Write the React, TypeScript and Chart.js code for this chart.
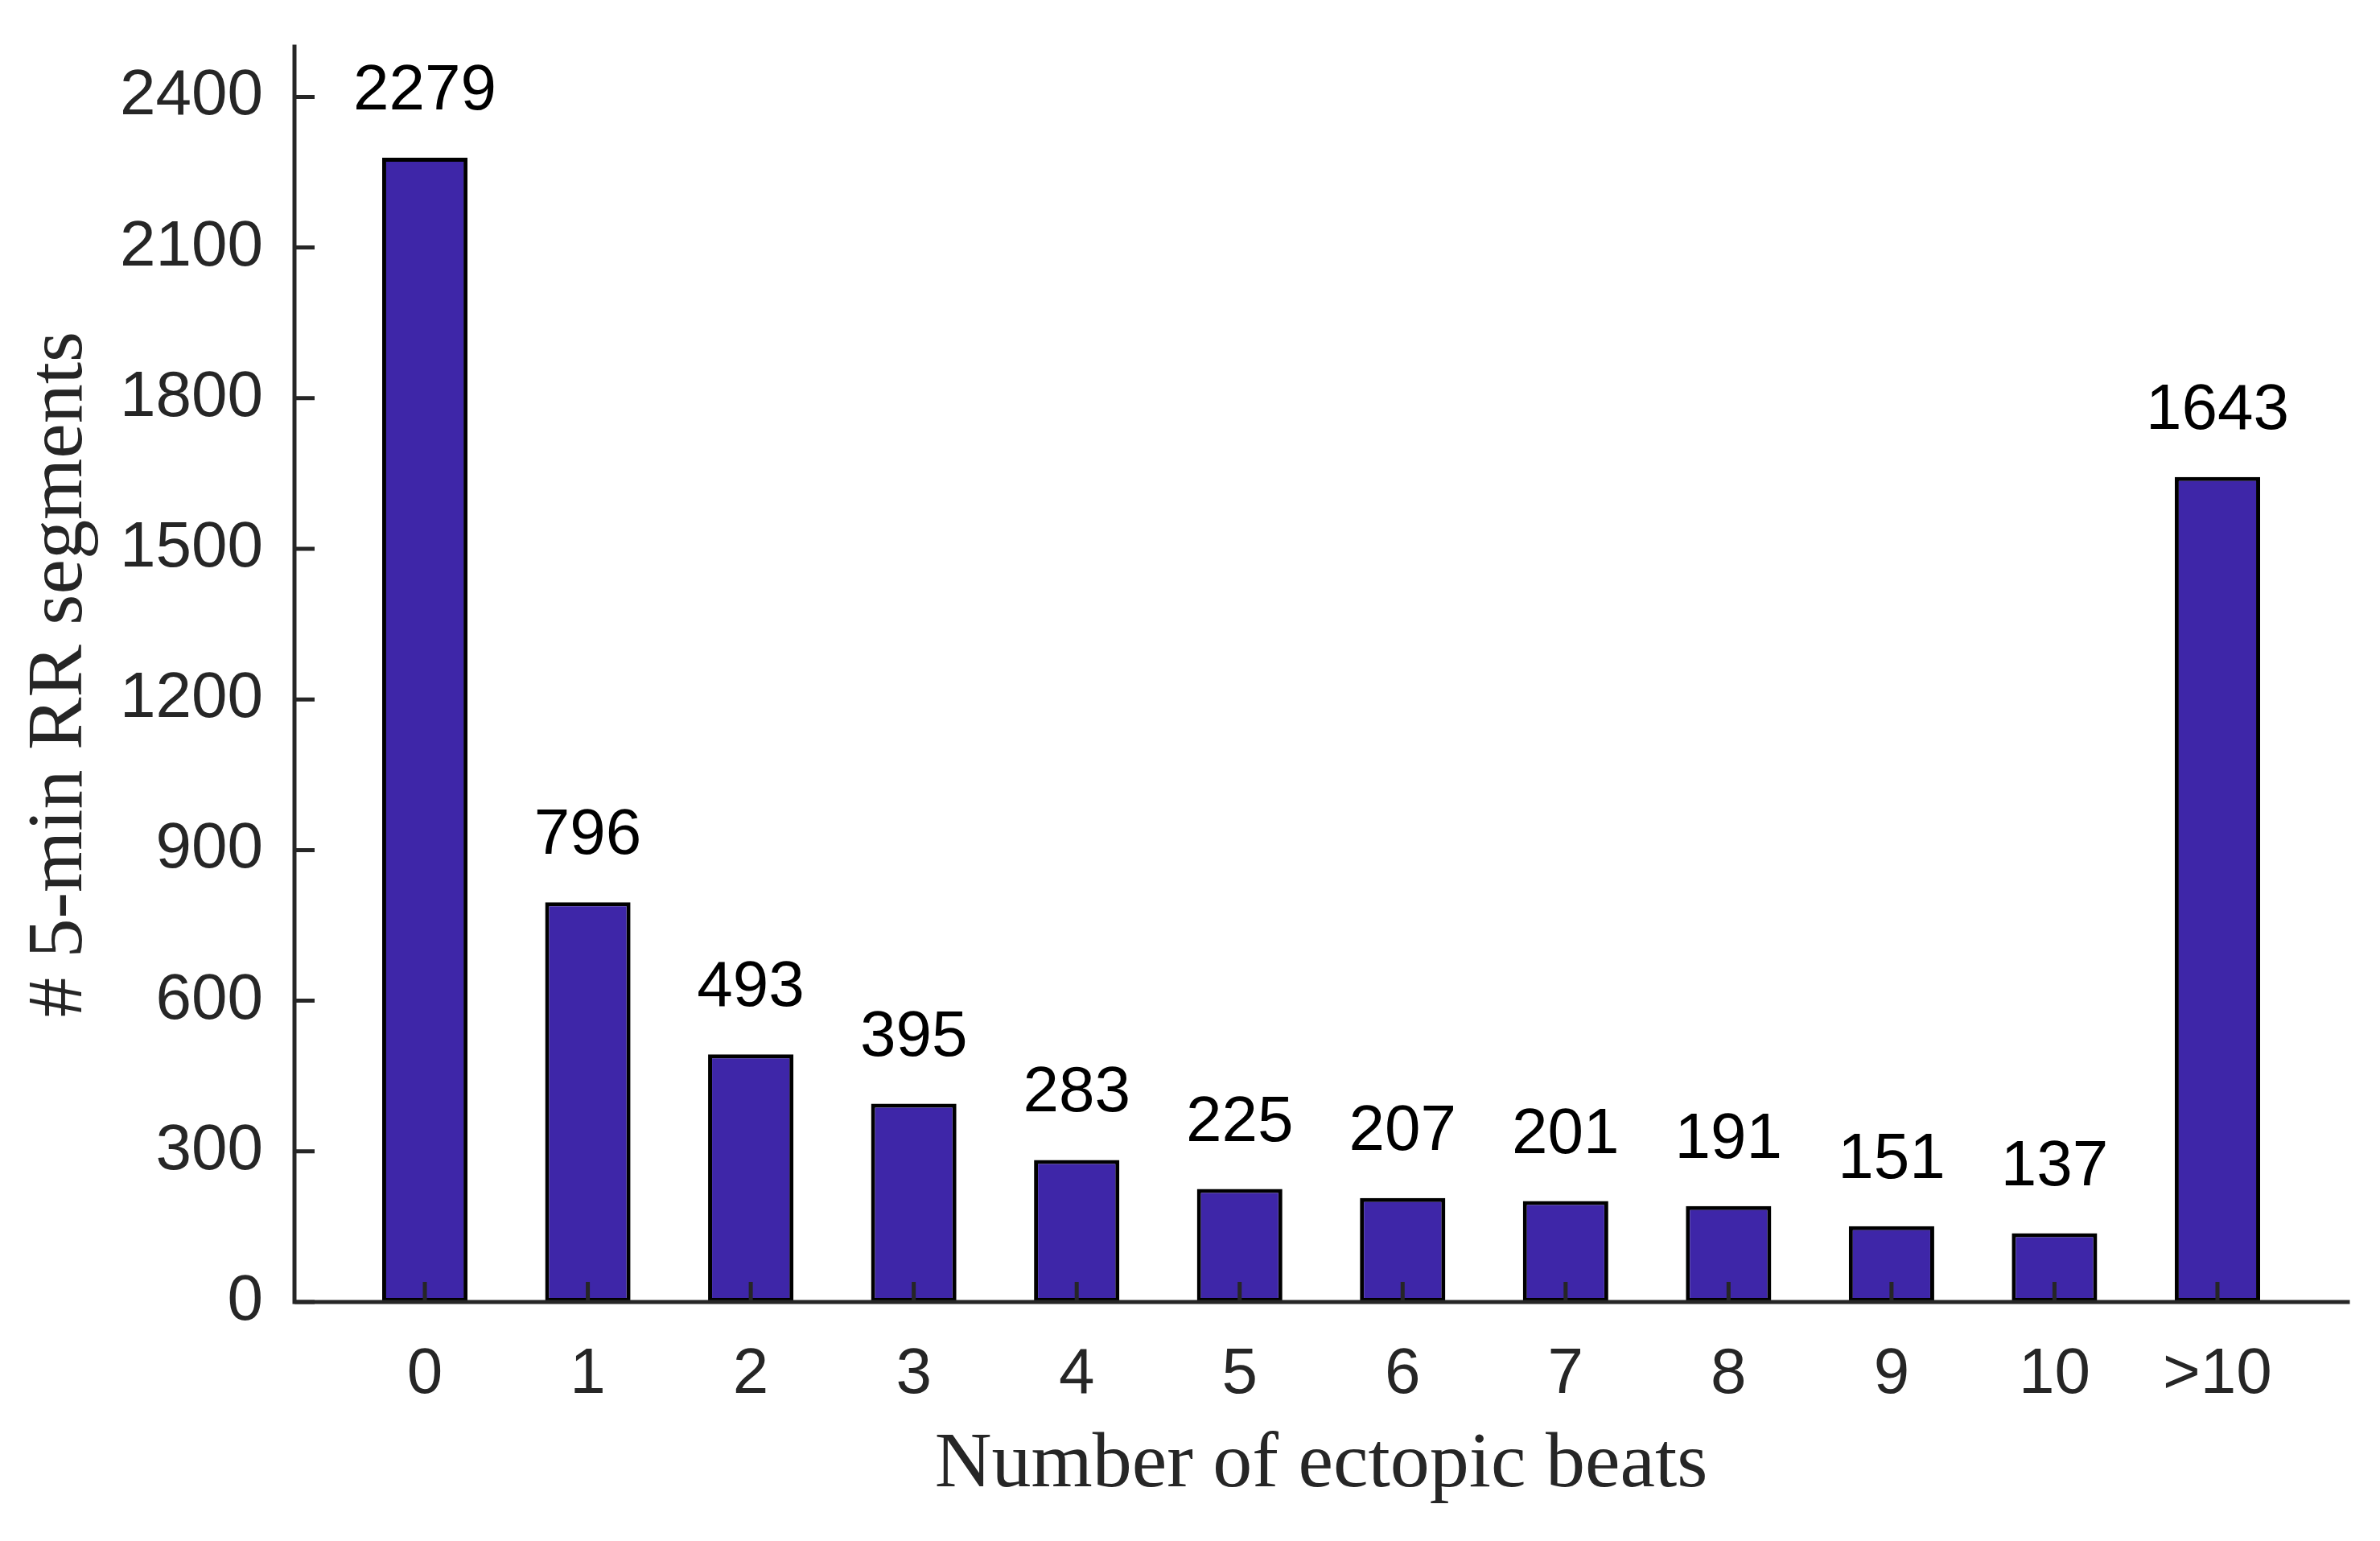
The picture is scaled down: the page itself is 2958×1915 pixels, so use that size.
import { useEffect, useRef } from "react";
import { Chart, registerables } from "chart.js";
import type { Plugin } from "chart.js";

Chart.register(...registerables);

// number of ectopic beats per 5-min segment
const beatLabels = ["0", "1", "2", "3", "4", "5", "6", "7", "8", "9", "10", ">10"];
const segmentCounts = [2279, 796, 493, 395, 283, 225, 207, 201, 191, 151, 137, 1643];
const yTicks = [0, 300, 600, 900, 1200, 1500, 1800, 2100, 2400];

const AXIS_COLOR = "#262626";
const BAR_COLOR = "#3E26A8";
const SANS = "'Liberation Sans', Arial, Helvetica, sans-serif";
const SERIF = "'Liberation Serif', 'Times New Roman', Times, serif";

// MATLAB style axes: inward ticks, drawn on top of the bars
const axesPlugin: Plugin<"bar"> = {
  id: "matlabAxes",
  afterDatasetsDraw(chart) {
    const { ctx, chartArea, scales } = chart;
    const { left, right, top, bottom } = chartArea;
    const x = scales.x;
    const y = scales.y;
    const tickLen = 25;

    ctx.save();
    ctx.strokeStyle = AXIS_COLOR;
    ctx.lineWidth = 5;
    ctx.beginPath();
    y.ticks.forEach((t) => {
      const py = y.getPixelForValue(t.value);
      ctx.moveTo(left, py);
      ctx.lineTo(left + tickLen, py);
    });
    x.ticks.forEach((t) => {
      const px = x.getPixelForValue(t.value);
      ctx.moveTo(px, bottom);
      ctx.lineTo(px, bottom - tickLen);
    });
    ctx.stroke();

    ctx.lineCap = "square";
    ctx.beginPath();
    ctx.moveTo(left, top);
    ctx.lineTo(left, bottom);
    ctx.lineTo(right, bottom);
    ctx.stroke();
    ctx.restore();
  },
};

const valueLabels: Plugin<"bar"> = {
  id: "valueLabels",
  afterDatasetsDraw(chart) {
    const { ctx } = chart;
    const meta = chart.getDatasetMeta(0);
    ctx.save();
    ctx.font = `80px ${SANS}`;
    ctx.fillStyle = "#000";
    ctx.textAlign = "center";
    ctx.textBaseline = "alphabetic";
    meta.data.forEach((bar, i) => {
      ctx.fillText(String(segmentCounts[i]), bar.x, bar.y - 60);
    });
    ctx.restore();
  },
};

const EctopicChart = () => {
  const canvasRef = useRef<HTMLCanvasElement | null>(null);
  const chartRef = useRef<Chart | null>(null);

  useEffect(() => {
    if (!canvasRef.current) return;
    if (chartRef.current) chartRef.current.destroy();

    chartRef.current = new Chart(canvasRef.current, {
      type: "bar",
      data: {
        datasets: [
          {
            data: segmentCounts.map((v, i) => ({ x: i, y: v })),
            backgroundColor: BAR_COLOR,
            borderColor: "#000",
            borderWidth: 5,
            borderSkipped: false,
            barPercentage: 0.524,
            categoryPercentage: 1,
          },
        ],
      },
      options: {
        animation: false,
        responsive: true,
        maintainAspectRatio: false,
        layout: { padding: { top: 58, right: 40, left: 0, bottom: 0 } },
        plugins: {
          legend: { display: false },
          tooltip: { enabled: false },
        },
        scales: {
          x: {
            type: "linear",
            min: -0.8,
            max: 11.8,
            offset: false,
            afterBuildTicks: (scale) => {
              scale.ticks = beatLabels.map((_, i) => ({ value: i }));
            },
            afterFit: (scale) => {
              scale.height = 297;
              scale.paddingLeft = 0;
              scale.paddingRight = 0;
            },
            grid: { display: false, drawTicks: false, offset: false },
            border: { display: false },
            ticks: {
              autoSkip: false,
              maxRotation: 0,
              padding: 43,
              color: AXIS_COLOR,
              font: { family: SANS, size: 80 },
              callback: (value) => beatLabels[Number(value)] ?? "",
            },
            title: {
              display: true,
              text: "Number of ectopic beats",
              color: AXIS_COLOR,
              font: { family: SERIF, size: 98 },
              padding: { top: 0, bottom: 35 },
            },
          },
          y: {
            type: "linear",
            min: 0,
            max: 2500,
            afterBuildTicks: (scale) => {
              scale.ticks = yTicks.map((v) => ({ value: v }));
            },
            afterFit: (scale) => {
              scale.width = 366;
              scale.paddingTop = 0;
              scale.paddingBottom = 0;
            },
            grid: { display: false, drawTicks: false },
            border: { display: false },
            ticks: {
              padding: 39,
              color: AXIS_COLOR,
              font: { family: SANS, size: 80 },
              callback: (value) => String(value),
            },
            title: {
              display: true,
              text: "# 5-min RR segments",
              color: AXIS_COLOR,
              font: { family: SERIF, size: 98 },
              padding: { top: 16, bottom: 0 },
            },
          },
        },
      },
      plugins: [axesPlugin, valueLabels],
    });

    return () => {
      if (chartRef.current) {
        chartRef.current.destroy();
        chartRef.current = null;
      }
    };
  }, []);

  return (
    <div
      style={{
        position: "fixed",
        left: 0,
        top: 0,
        width: "100vw",
        height: "100vh",
        background: "#fff",
      }}
    >
      <canvas ref={canvasRef}></canvas>
    </div>
  );
};

export default function App() {
  return <EctopicChart />;
}
